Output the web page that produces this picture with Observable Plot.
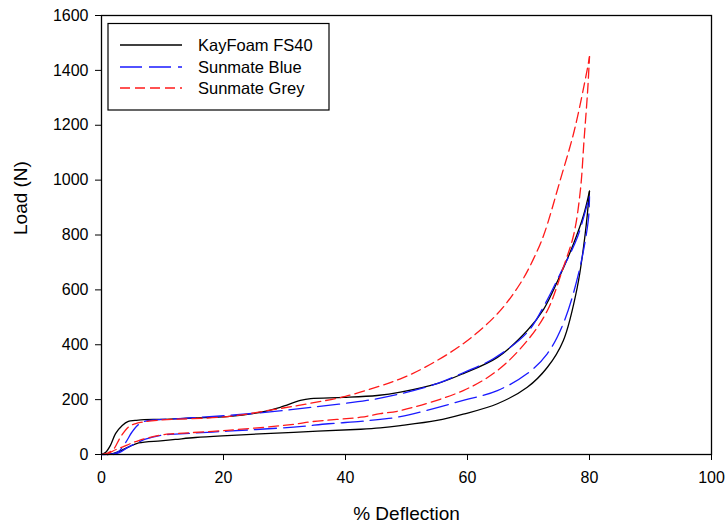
<!DOCTYPE html>
<html>
<head>
<meta charset="utf-8">
<script src="https://cdn.jsdelivr.net/npm/d3@7"></script>
<script src="https://cdn.jsdelivr.net/npm/@observablehq/plot@0.6"></script>
<style>
  html, body { margin: 0; padding: 0; background: white; }
</style>
</head>
<body>
<div id="chart"></div>
<script>
// ---- Data ----
const seriesNames = ["KayFoam FS40", "Sunmate Blue", "Sunmate Grey"];
const seriesColors = ["black", "#1a1aff", "#ff1a1a"];
const seriesDash = [null, "22,7", "10,5"];

const xTicks = [0, 20, 40, 60, 80, 100];
const yTicks = [0, 200, 400, 600, 800, 1000, 1200, 1400, 1600];

// KayFoam FS40 – loading
const kayLoadX = [0, 0.7, 1.5, 2.3, 3.4, 4.4, 5.5, 7, 10, 15, 20.6, 26.1, 29.3, 32.6, 34.3, 39.7, 45.2, 49, 55, 59.3, 64.9, 69.8, 72.5, 74.8, 77.4, 79, 80];
const kayLoadY = [0, 8, 35, 76, 106, 121, 124, 127, 128, 133, 138, 154, 172, 197, 204, 208, 215, 227, 258, 295, 354, 452, 530, 634, 769, 870, 960];
// KayFoam FS40 – unloading
const kayUnloadX = [1, 2, 3, 4.4, 6.1, 9.7, 12.1, 15.4, 20.6, 31.5, 42.5, 45.7, 49, 55, 59.3, 64.9, 69.8, 73.1, 75.7, 78, 79.3, 80];
const kayUnloadY = [0, 4, 12, 27, 42, 50, 55, 62, 69, 81, 92, 97, 105, 124, 147, 185, 245, 318, 415, 610, 805, 960];

// Sunmate Blue – loading
const blueLoadX = [0, 2, 3, 4, 5, 6, 7.2, 8.5, 10, 15, 20.6, 28.8, 34.3, 43.5, 49, 55, 59.3, 64.3, 69.8, 72.5, 75.2, 78, 79.8, 80];
const blueLoadY = [0, 3, 15, 45, 82, 108, 122, 126, 128, 134, 142, 158, 172, 197, 221, 258, 298, 350, 445, 540, 659, 791, 925, 940];
// Sunmate Blue – unloading
const blueUnloadX = [2, 3, 4.4, 6.1, 7.2, 10, 12.1, 20.6, 31.5, 37.2, 42.5, 45.7, 49, 59.3, 64.9, 69.8, 73.1, 75.7, 78.2, 79.8, 80];
const blueUnloadY = [0, 8, 27, 45, 56, 71, 74, 85, 100, 112, 121, 128, 138, 197, 233, 295, 368, 477, 659, 853, 940];

// Sunmate Grey – loading
const greyLoadX = [0, 1, 2, 3.1, 4.4, 5.5, 6.7, 10, 20.6, 28.8, 34.3, 40, 45.7, 49, 52.8, 59.3, 64.9, 68.7, 70.8, 72.5, 75.2, 77.5, 79.6, 80];
const greyLoadY = [0, 5, 20, 63, 100, 112, 118, 126, 138, 166, 187, 212, 250, 276, 315, 404, 513, 625, 712, 800, 1000, 1180, 1400, 1450];
// Sunmate Grey – unloading
const greyUnloadX = [1, 1.8, 3.4, 6.1, 10, 12.1, 20.6, 31.5, 34.6, 42.5, 45.7, 49, 59.3, 64.9, 69.8, 73.1, 75.7, 77.4, 78.5, 79.1, 79.7, 80];
const greyUnloadY = [0, 12, 27, 51, 72, 76, 88, 110, 120, 136, 149, 160, 233, 306, 415, 525, 682, 800, 962, 1144, 1327, 1450];

// ---- Build table ----
function rows(name, phase, xs, ys) {
  return xs.map((x, i) => ({series: name, phase, x, y: ys[i]}));
}
const data = [
  ...rows(seriesNames[0], "load", kayLoadX, kayLoadY),
  ...rows(seriesNames[0], "unload", kayUnloadX, kayUnloadY),
  ...rows(seriesNames[1], "load", blueLoadX, blueLoadY),
  ...rows(seriesNames[1], "unload", blueUnloadX, blueUnloadY),
  ...rows(seriesNames[2], "load", greyLoadX, greyLoadY),
  ...rows(seriesNames[2], "unload", greyUnloadX, greyUnloadY)
];

const lineMarks = seriesNames.map((name, i) =>
  Plot.line(data.filter(d => d.series === name), {
    x: "x", y: "y", z: "phase",
    stroke: seriesColors[i],
    strokeWidth: 1.3,
    strokeDasharray: seriesDash[i] || undefined,
    curve: "catmull-rom"
  })
);

const chart = Plot.plot({
  width: 726,
  height: 525,
  marginLeft: 101,
  marginRight: 15,
  marginTop: 15,
  marginBottom: 71,
  style: {fontFamily: "'Liberation Sans', Arial, sans-serif", fontSize: "16px", color: "black", background: "white"},
  x: {domain: [0, 100]},
  y: {domain: [0, 1600]},
  marks: [
    Plot.axisX({ticks: xTicks, tickSize: 6, tickPadding: 11, label: null, tickFormat: d => String(d)}),
    Plot.axisY({ticks: yTicks, tickSize: 6, tickPadding: 7, label: null, tickFormat: d => String(d)}),
    ...lineMarks,
    Plot.frame({stroke: "black", strokeWidth: 1.3}),
    Plot.text(["% Deflection"], {text: d => d, frameAnchor: "bottom", dy: 52, lineAnchor: "top", fontSize: 19}),
    Plot.text(["Load (N)"], {text: d => d, frameAnchor: "left", dx: -81, rotate: -90, fontSize: 19})
  ]
});

document.getElementById("chart").appendChild(chart);

// ---- Legend inside the plot area ----
const svg = d3.select(chart);
const lg = svg.append("g").attr("class", "legend").attr("text-anchor", "start");
lg.append("rect")
  .attr("x", 108).attr("y", 23.5).attr("width", 221).attr("height", 86.5)
  .attr("fill", "white").attr("stroke", "black").attr("stroke-width", 1.2);
const rowY = [45, 67, 88];
seriesNames.forEach((name, i) => {
  lg.append("line")
    .attr("x1", 120).attr("x2", 182)
    .attr("y1", rowY[i]).attr("y2", rowY[i])
    .attr("stroke", seriesColors[i])
    .attr("stroke-width", 1.3)
    .attr("stroke-dasharray", seriesDash[i]);
  lg.append("text")
    .attr("x", 198).attr("y", rowY[i]).attr("dy", "0.36em")
    .attr("text-anchor", "start")
    .attr("font-size", 16.5)
    .attr("fill", "black")
    .text(name);
});
</script>
</body>
</html>
